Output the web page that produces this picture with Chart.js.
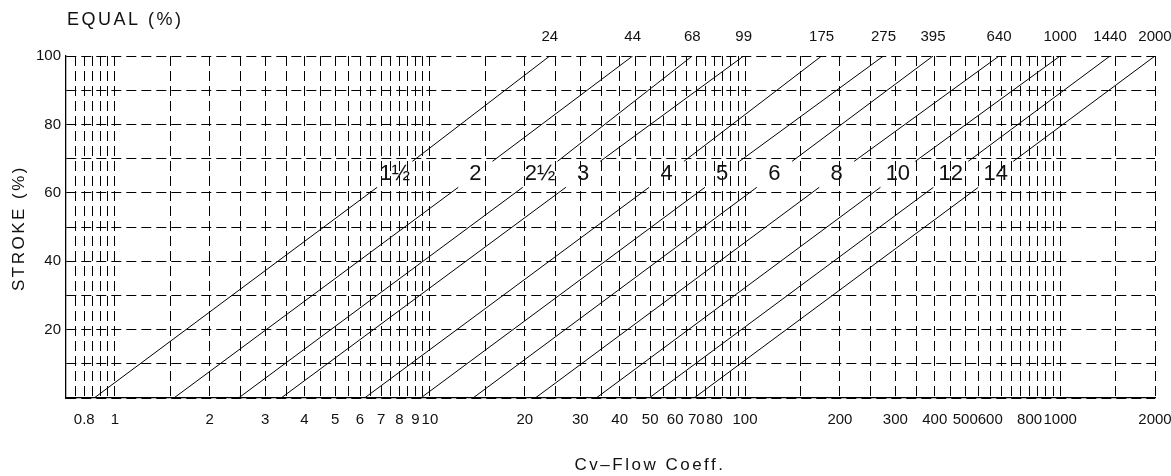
<!DOCTYPE html>
<html lang="en">
<head>
  <meta charset="UTF-8">
  <title>Equal % valve Cv chart</title>
  <script src="https://cdn.jsdelivr.net/npm/chart.js"></script>
  <style>
    html, body {
      margin: 0;
      padding: 0;
      background: #fff;
    }
    #wrap {
      width: 1171px;
      height: 476px;
    }
  </style>
</head>
<body>
  <div id="wrap"><canvas id="cvChart" width="1171" height="476"></canvas></div>

  <script>
    // valve sizes, written in the gap of each line
    const sizeLabels = ['1½', '2', '2½', '3', '4', '5', '6', '8', '10', '12', '14'];
    // Cv at 100% stroke (printed above the plot)
    const cvTop = [24, 44, 68, 99, 175, 275, 395, 640, 1000, 1440, 2000];
    // Cv where each line leaves the 0% stroke axis
    const cvBottom = [0.86, 1.54, 2.47, 3.37, 6.2, 9.35, 13.7, 21.6, 33.7, 49.6, 68.9];
    // Cv at the lower and upper end of the gap left for the size label
    const cvGapLow = [6.8, 12.3, 19.7, 27, 49.6, 74.6, 109, 172, 269, 396, 550];
    const cvGapHigh = [8.8, 15.8, 25.4, 34.7, 64, 96, 141, 222, 347, 511, 710];
    // stroke (%) of the four points of every line
    const strokePts = [0, 61.6, 69.2, 100];
    const strokeLabel = 65.4;

    // vertical grid lines of the Cv axis
    const xGrid = [0.75, 0.8, 0.85, 0.9, 0.95, 1, 1.5,
      2, 2.5, 3, 3.5, 4, 4.5, 5, 5.5, 6, 6.5, 7, 7.5, 8, 8.5, 9, 9.5, 10, 15,
      20, 25, 30, 35, 40, 45, 50, 55, 60, 65, 70, 75, 80, 85, 90, 95, 100, 150,
      200, 250, 300, 350, 400, 450, 500, 550, 600, 650, 700, 750, 800, 850, 900, 950, 1000, 1500, 2000];
    // the ones that get a number under the axis
    const xLabels = [0.8, 1, 2, 3, 4, 5, 6, 7, 8, 9, 10, 20, 30, 40, 50, 60, 70, 80, 100,
      200, 300, 400, 500, 600, 800, 1000, 2000];
    const yLabels = [20, 40, 60, 80, 100];

    const FONT = '"Liberation Sans", Arial, sans-serif';
    const dash = [10, 5];

    // titles and the size numbers sitting in the line gaps
    const textPlugin = {
      id: 'chartText',
      afterDraw(chart) {
        const ctx = chart.ctx;
        const xs = chart.scales.x, ys = chart.scales.y;
        ctx.save();
        ctx.fillStyle = '#111';
        ctx.letterSpacing = '2.5px';
        ctx.font = '18px ' + FONT;
        ctx.textBaseline = 'middle';
        ctx.textAlign = 'left';
        ctx.fillText('EQUAL (%)', 67, 20);

        ctx.textAlign = 'center';
        ctx.font = '17px ' + FONT;
        ctx.fillText('Cv\u2013Flow Coeff.', 650, 465);

        ctx.save();
        ctx.translate(19, 228);
        ctx.rotate(-Math.PI / 2);
        ctx.font = '17px ' + FONT;
        ctx.fillText('STROKE (%)', 0, 0);
        ctx.restore();

        ctx.letterSpacing = '0px';
        ctx.font = '22px ' + FONT;
        sizeLabels.forEach((lab, i) => {
          const px = (xs.getPixelForValue(cvGapLow[i]) + xs.getPixelForValue(cvGapHigh[i])) / 2;
          ctx.fillText(lab, px, ys.getPixelForValue(strokeLabel));
        });
        ctx.restore();
      }
    };

    const datasets = cvTop.map((top, i) => ({
      data: [
        { x: cvBottom[i], y: strokePts[0] },
        { x: cvGapLow[i], y: strokePts[1] },
        { x: cvGapHigh[i], y: strokePts[2] },
        { x: top, y: strokePts[3] }
      ],
      borderColor: '#000',
      borderWidth: 1,
      pointRadius: 0,
      tension: 0,
      segment: {
        borderColor: c => c.p0DataIndex === 1 ? 'rgba(0,0,0,0)' : '#000'
      }
    }));

    // keep the plot box fixed, labels may hang over its edges
    function fitX(h) {
      return s => {
        s.height = h;
        s.paddingLeft = 0;
        s.paddingRight = 0;
      };
    }

    new Chart(document.getElementById('cvChart'), {
      type: 'line',
      data: { datasets: datasets },
      plugins: [textPlugin],
      options: {
        responsive: false,
        animation: false,
        devicePixelRatio: 1,
        layout: { padding: { left: 0, right: 16, top: 0, bottom: 0 } },
        plugins: {
          legend: { display: false },
          tooltip: { enabled: false }
        },
        scales: {
          x: {
            type: 'logarithmic',
            position: 'bottom',
            min: 0.72,
            max: 2000,
            afterBuildTicks: s => { s.ticks = xGrid.map(v => ({ value: v })); },
            afterFit: fitX(78),
            grid: { color: '#000', lineWidth: 1, drawTicks: false },
            border: { display: true, color: '#000', width: 1.3, dash: dash },
            ticks: {
              autoSkip: false,
              maxRotation: 0,
              padding: 13,
              color: '#111',
              font: { family: FONT, size: 15 },
              callback: v => xLabels.includes(v) ? String(v) : ''
            }
          },
          xTop: {
            type: 'logarithmic',
            position: 'top',
            min: 0.72,
            max: 2000,
            afterBuildTicks: s => { s.ticks = cvTop.map(v => ({ value: v })); },
            afterFit: fitX(56),
            grid: { display: false, drawTicks: false },
            border: { display: false },
            ticks: {
              autoSkip: false,
              maxRotation: 0,
              padding: 10,
              color: '#111',
              font: { family: FONT, size: 15 },
              callback: v => String(v)
            }
          },
          y: {
            min: 0,
            max: 100,
            afterFit: s => { s.width = 66; },
            grid: { color: '#000', lineWidth: 1, drawTicks: false },
            border: { display: true, color: '#000', width: 1.3, dash: dash },
            ticks: {
              stepSize: 10,
              padding: 5,
              color: '#111',
              font: { family: FONT, size: 15 },
              callback: v => yLabels.includes(v) ? String(v) : ''
            }
          }
        }
      }
    });
  </script>
</body>
</html>
